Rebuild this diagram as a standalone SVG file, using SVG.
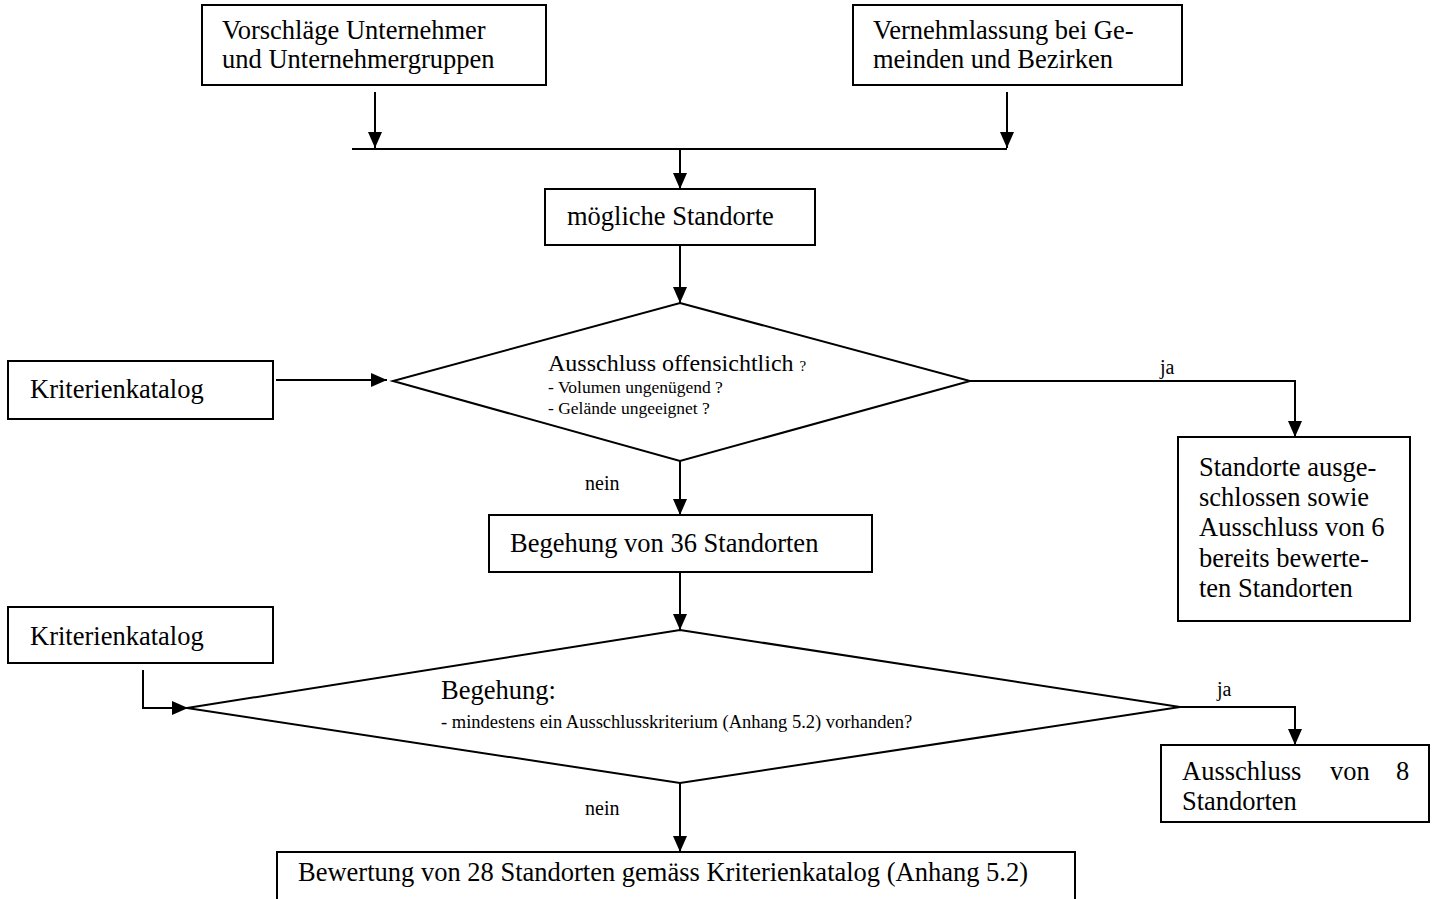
<svg xmlns="http://www.w3.org/2000/svg" width="1437" height="899" viewBox="0 0 1437 899" font-family="'Liberation Serif', 'DejaVu Serif', serif">
<style>
text{font-family:'Liberation Serif','DejaVu Serif',serif;fill:#000}
.t{font-size:26.5px}
.s{font-size:17.5px}
.m{font-size:18.5px}
.l{font-size:20px}
.box{fill:#fff;stroke:#000;stroke-width:2}
.c{fill:none;stroke:#000;stroke-width:2}
</style>
<defs>
<marker id="ah" markerUnits="userSpaceOnUse" markerWidth="16" markerHeight="16" viewBox="0 0 16 16" refX="16" refY="8" orient="auto">
<path d="M0,1 L16,8 L0,15 Z" fill="#000"/>
</marker>
</defs>
<rect width="1437" height="899" fill="#fff"/>
<g id="connectors">
<line class="c" x1="375" y1="92" x2="375" y2="148" marker-end="url(#ah)"/>
<line class="c" x1="1007" y1="92" x2="1007" y2="148" marker-end="url(#ah)"/>
<line class="c" x1="352" y1="149" x2="1007" y2="149"/>
<line class="c" x1="680" y1="149" x2="680" y2="189" marker-end="url(#ah)"/>
<line class="c" x1="680" y1="245" x2="680" y2="303" marker-end="url(#ah)"/>
<line class="c" x1="276" y1="380" x2="387" y2="380" marker-end="url(#ah)"/>
<polyline class="c" points="970,381 1295,381 1295,437" marker-end="url(#ah)"/>
<line class="c" x1="680" y1="461" x2="680" y2="515" marker-end="url(#ah)"/>
<line class="c" x1="680" y1="572" x2="680" y2="630" marker-end="url(#ah)"/>
<polyline class="c" points="143,670 143,708 188,708" marker-end="url(#ah)"/>
<polyline class="c" points="1180,707 1295,707 1295,745" marker-end="url(#ah)"/>
<line class="c" x1="680" y1="783" x2="680" y2="852" marker-end="url(#ah)"/>
<text class="l" x="1160" y="374">ja</text>
<text class="l" x="585" y="490">nein</text>
<text class="l" x="1217" y="696">ja</text>
<text class="l" x="585" y="815">nein</text>
</g>
<g id="n1">
<rect class="box" x="202" y="5" width="344" height="80"/>
<text class="t" x="222" y="39">Vorschläge Unternehmer</text>
<text class="t" x="222" y="68">und Unternehmergruppen</text>
</g>
<g id="n2">
<rect class="box" x="853" y="5" width="329" height="80"/>
<text class="t" x="873" y="39">Vernehmlassung bei Ge-</text>
<text class="t" x="873" y="68">meinden und Bezirken</text>
</g>
<g id="n3">
<rect class="box" x="545" y="189" width="270" height="56"/>
<text class="t" x="567" y="225">mögliche Standorte</text>
</g>
<g id="d1">
<polygon class="box" points="680,303 970,381 680,461 393,381"/>
<text x="548" y="371" style="font-size:24px">Ausschluss offensichtlich <tspan style="font-size:15px">?</tspan></text>
<text class="s" x="548" y="393">- Volumen ungenügend ?</text>
<text class="s" x="548" y="414">- Gelände ungeeignet ?</text>
</g>
<g id="k1">
<rect class="box" x="8" y="361" width="265" height="58"/>
<text class="t" x="30" y="398">Kriterienkatalog</text>
</g>
<g id="r1">
<rect class="box" x="1178" y="437" width="232" height="184"/>
<text class="t" x="1199" y="476">Standorte ausge-</text>
<text class="t" x="1199" y="506">schlossen sowie</text>
<text class="t" x="1199" y="536">Ausschluss von 6</text>
<text class="t" x="1199" y="567">bereits bewerte-</text>
<text class="t" x="1199" y="597">ten Standorten</text>
</g>
<g id="n4">
<rect class="box" x="489" y="515" width="383" height="57"/>
<text class="t" x="510" y="552">Begehung von 36 Standorten</text>
</g>
<g id="k2">
<rect class="box" x="8" y="607" width="265" height="56"/>
<text class="t" x="30" y="645">Kriterienkatalog</text>
</g>
<g id="d2">
<polygon class="box" points="680,630 1180,707 680,783 187,708"/>
<text class="t" x="441" y="699">Begehung:</text>
<text class="m" x="441" y="728">- mindestens ein Ausschlusskriterium (Anhang 5.2) vorhanden?</text>
</g>
<g id="r2">
<rect class="box" x="1161" y="745" width="268" height="77"/>
<text class="t" x="1182" y="780">Ausschluss</text>
<text class="t" x="1330" y="780">von</text>
<text class="t" x="1396" y="780">8</text>
<text class="t" x="1182" y="810">Standorten</text>
</g>
<g id="n5">
<rect class="box" x="277" y="852" width="798" height="50"/>
<text class="t" x="298" y="881">Bewertung von 28 Standorten gemäss Kriterienkatalog (Anhang 5.2)</text>
</g>
</svg>
